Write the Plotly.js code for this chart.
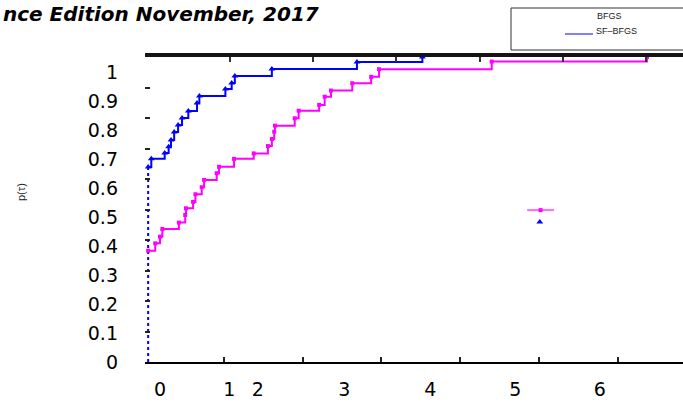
<!DOCTYPE html>
<html><head><meta charset="utf-8">
<script src="https://cdn.plot.ly/plotly-3.0.1.min.js"></script>
<style>html,body{margin:0;padding:0;overflow:hidden;background:#fff;width:683px;height:405px}</style>
</head><body><div id="chart"></div>
<script>
// SF-BFGS (blue) performance profile steps
const sfTau = [0.04, 0.08, 0.25, 0.30, 0.33, 0.37, 0.42, 0.47, 0.55, 0.66, 0.69, 1.02, 1.10, 1.14, 1.61, 2.69, 3.52];
const sfP   = [0.639, 0.666, 0.685, 0.706, 0.728, 0.754, 0.777, 0.800, 0.823, 0.849, 0.872, 0.895, 0.915, 0.938, 0.961, 0.984, 1.000];
// BFGS (magenta) performance profile steps
const bfTau = [0.04, 0.13, 0.19, 0.22, 0.43, 0.51, 0.52, 0.61, 0.64, 0.72, 0.75, 0.91, 0.94, 1.13, 1.38, 1.56, 1.61, 1.64, 1.65, 1.90, 1.95, 2.21, 2.28, 2.36, 2.63, 2.87, 2.97, 4.40, 6.37];
const bfP   = [0.365, 0.389, 0.411, 0.436, 0.457, 0.482, 0.504, 0.525, 0.550, 0.573, 0.597, 0.619, 0.640, 0.666, 0.684, 0.708, 0.731, 0.755, 0.775, 0.799, 0.824, 0.843, 0.870, 0.890, 0.914, 0.935, 0.960, 0.985, 1.000];
// dotted lead-in of SF-BFGS along the left edge
const sfLeadTau = [0.04, 0.04];
const sfLeadP = [0, 0.639];
// stray legend symbols drawn inside the plot
const strayBfLineTau = [4.85, 5.19];
const strayBfLineP = [0.498, 0.498];
const strayBfMarkTau = [5.02];
const strayBfMarkP = [0.498];
const straySfMarkTau = [5.01];
const straySfMarkP = [0.459];
// axis ticks and labels
const bottomTickVals = [1, 2, 3, 4, 5, 6, 7];
const topTickVals = [1, 2, 3, 4, 5, 6, 7];
const xLabelPos = [0.19, 1.07, 1.43, 2.53, 3.62, 4.70, 5.77];
const xLabelText = ['0', '1', '2', '3', '4', '5', '6'];
const yTickVals = [0, 0.1, 0.2, 0.3, 0.4, 0.5, 0.6, 0.7, 0.8, 0.9, 1];
const yLabelText = ['0', '0.1', '0.2', '0.3', '0.4', '0.5', '0.6', '0.7', '0.8', '0.9', '1'];
const seriesNames = ['BFGS', 'SF\u2013BFGS'];
const titleText = 'nce Edition November, 2017';

const BLUE = '#0000ff', MAG = '#ff00ff';
const W = 760, H = 405, ML = 145, MT = 57, MB = 43;
const PW = W - ML, PH = H - MT - MB;
const px = x => (x - ML) / PW, py = y => (H - MB - y) / PH;

const traces = [
  {x: sfLeadTau, y: sfLeadP, mode: 'lines', line: {color: BLUE, width: 2, dash: 'dot'}, showlegend: false, hoverinfo: 'skip'},
  {x: bfTau, y: bfP, name: seriesNames[0], mode: 'lines+markers', line: {color: MAG, width: 2, shape: 'hv'},
   marker: {symbol: 'square', size: 4, color: MAG}, showlegend: false},
  {x: sfTau, y: sfP, name: seriesNames[1], mode: 'lines+markers', line: {color: BLUE, width: 2, shape: 'hv'},
   marker: {symbol: 'triangle-up', size: 6, color: BLUE}, showlegend: false},
  {x: strayBfLineTau, y: strayBfLineP, mode: 'lines', line: {color: MAG, width: 2}, opacity: 0.6, showlegend: false, hoverinfo: 'skip'},
  {x: strayBfMarkTau, y: strayBfMarkP, mode: 'markers', marker: {symbol: 'square', size: 4, color: MAG}, showlegend: false},
  {x: straySfMarkTau, y: straySfMarkP, mode: 'markers', marker: {symbol: 'triangle-up', size: 6, color: BLUE}, showlegend: false},
  {x: [], y: [], xaxis: 'x2', yaxis: 'y2', showlegend: false},
  {x: [], y: [], xaxis: 'x3', yaxis: 'y', showlegend: false}
];

const layout = {
  width: W, height: H,
  margin: {l: ML, r: 0, t: MT, b: MB},
  paper_bgcolor: '#fff', plot_bgcolor: '#fff',
  showlegend: false,
  xaxis: {range: [0, PW / 78.8], tickvals: bottomTickVals, ticks: 'inside', ticklen: 5, tickwidth: 2, tickcolor: '#222',
          showticklabels: false, showline: true, linecolor: '#000', linewidth: 2, showgrid: false, zeroline: false},
  xaxis2: {overlaying: 'x', side: 'top', anchor: 'y', range: [-0.022, -0.022 + PW / 83.2], tickvals: topTickVals, ticks: 'inside',
           ticklen: 5, tickwidth: 2, tickcolor: '#333', showticklabels: false, showline: true, linecolor: '#151515', linewidth: 4,
           showgrid: false, zeroline: false},
  xaxis3: {overlaying: 'x', side: 'bottom', anchor: 'y', range: [0, PW / 78.8], tickvals: xLabelPos, ticktext: xLabelText,
           ticks: '', showline: false, showgrid: false, zeroline: false, ticklabelstandoff: 14,
           tickfont: {family: 'DejaVu Sans', size: 19, color: '#000'}},
  yaxis: {range: [0, 1], tickvals: yTickVals, ticks: 'inside', ticklen: 5, tickwidth: 2, tickcolor: '#222',
          showticklabels: false, showline: false, showgrid: false, zeroline: false},
  yaxis2: {overlaying: 'y', side: 'left', anchor: 'x', range: [0, 1.052], tickvals: yTickVals, ticktext: yLabelText,
           ticks: '', showline: false, showgrid: false, zeroline: false, ticklabelstandoff: 26,
           tickfont: {family: 'DejaVu Sans', size: 19, color: '#000'}},
  shapes: [
    {type: 'rect', xref: 'paper', yref: 'paper', x0: px(511), x1: px(770), y0: py(50), y1: py(8),
     line: {color: '#333', width: 1}, fillcolor: '#fff'},
    {type: 'line', xref: 'paper', yref: 'paper', x0: px(565), x1: px(593), y0: py(34), y1: py(34),
     line: {color: BLUE, width: 1}}
  ],
  annotations: [
    {text: titleText, xref: 'paper', yref: 'paper', x: px(1), y: py(0), xanchor: 'left', yanchor: 'top', showarrow: false,
     font: {family: 'DejaVu Sans', size: 20, color: '#000', weight: 'bold', style: 'italic'}},
    {text: 'p(\u03c4)', xref: 'paper', yref: 'paper', x: px(21), y: py(192), xanchor: 'center', yanchor: 'middle',
     showarrow: false, textangle: -90, font: {family: 'Liberation Sans', size: 11, color: '#222'}},
    {text: seriesNames[0], xref: 'paper', yref: 'paper', x: px(595), y: py(16), xanchor: 'left', yanchor: 'middle',
     showarrow: false, font: {family: 'Liberation Sans', size: 9, color: '#222'}},
    {text: seriesNames[1], xref: 'paper', yref: 'paper', x: px(594), y: py(31), xanchor: 'left', yanchor: 'middle',
     showarrow: false, font: {family: 'Liberation Sans', size: 9, color: '#222'}}
  ]
};

Plotly.newPlot('chart', traces, layout, {displayModeBar: false, staticPlot: true});
</script></body></html>
